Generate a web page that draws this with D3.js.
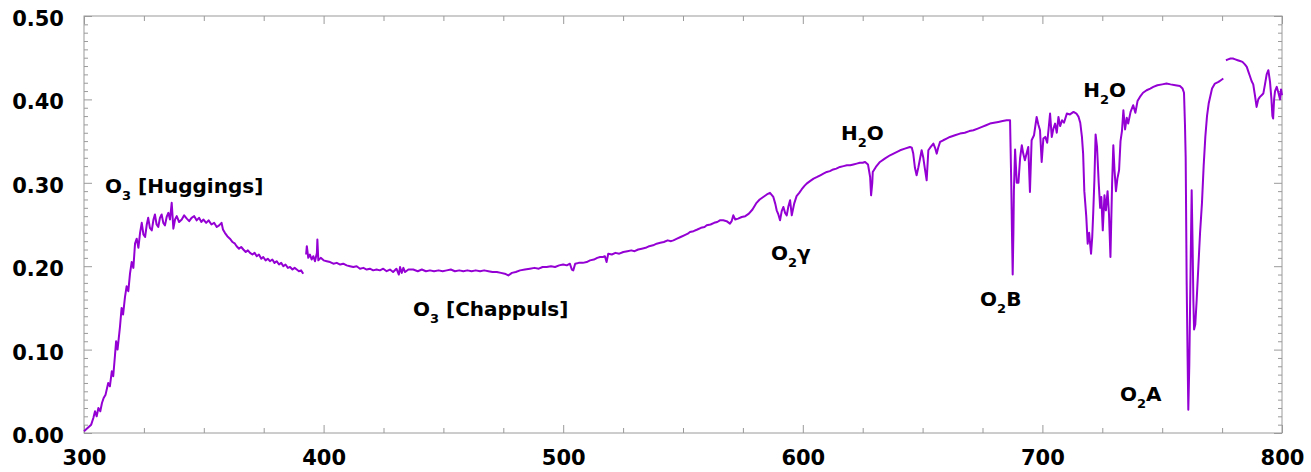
<!DOCTYPE html>
<html>
<head>
<meta charset="utf-8">
<script src="https://cdn.jsdelivr.net/npm/d3@7"></script>
<style>
  body { margin: 0; background: #fff; }
  svg { display: block; }
  text { font-family: "DejaVu Sans", sans-serif; font-weight: bold; fill: #000; }
</style>
</head>
<body>
<svg id="chart" width="1311" height="472"></svg>
<script>
// Measured spectrum, [wavelength nm, value], split where the record has gaps.
const bandUV = [
  [300.0,0.002],[301.5,0.006],[303.0,0.010],[303.9,0.018],[304.6,0.026],[305.3,0.020],[306.0,0.030],[306.8,0.026],
  [307.5,0.036],[308.2,0.042],[309.0,0.046],[310.1,0.060],[310.8,0.056],[311.6,0.074],[312.2,0.068],[312.9,0.092],
  [313.4,0.110],[314.0,0.100],[315.0,0.127],[315.7,0.150],[316.3,0.142],[317.1,0.163],[317.8,0.176],[318.5,0.170],
  [319.2,0.191],[319.9,0.205],[320.6,0.198],[321.3,0.227],[322.0,0.233],[322.7,0.222],[323.4,0.240],[324.1,0.252],
  [324.8,0.238],[325.5,0.235],[326.2,0.250],[326.8,0.258],[327.5,0.246],[328.3,0.243],[329.0,0.256],[329.6,0.262],
  [330.3,0.250],[331.0,0.247],[331.7,0.258],[332.4,0.262],[333.1,0.252],[333.8,0.249],[334.5,0.259],[335.2,0.264],
  [335.9,0.256],[336.6,0.276],[337.3,0.245],[338.0,0.256],[338.7,0.260],[339.7,0.253],[340.8,0.256],[341.8,0.261],
  [342.9,0.257],[343.9,0.254],[344.9,0.258],[346.0,0.260],[347.0,0.255],[348.0,0.258],[349.0,0.253],[349.8,0.256],
  [351.0,0.252],[352.0,0.255],[353.2,0.250],[354.3,0.252],[355.4,0.247],[356.4,0.249],[357.4,0.252],[358.0,0.244],
  [358.8,0.240],[359.8,0.236],[360.9,0.233],[362.0,0.229],[363.0,0.227],[363.7,0.224],[364.7,0.221],[365.6,0.223],
  [366.5,0.220],[367.5,0.217],[368.4,0.219],[369.3,0.216],[370.3,0.214],[371.2,0.216],[372.1,0.212],[373.0,0.214],
  [374.0,0.209],[374.8,0.211],[375.8,0.207],[376.7,0.209],[377.6,0.206],[378.6,0.208],[379.5,0.204],[380.4,0.206],
  [381.4,0.202],[382.3,0.204],[383.2,0.200],[384.1,0.202],[385.1,0.198],[386.0,0.199],[387.0,0.196],[387.9,0.198],
  [388.8,0.196],[389.7,0.194],[390.6,0.195],[391.5,0.191]
];

const bandVis = [
  [392.7,0.214],[393.0,0.224],[393.6,0.210],[394.3,0.214],[395.0,0.208],[395.7,0.212],[396.4,0.206],[397.2,0.216],
  [397.4,0.232],[397.8,0.207],[398.8,0.210],[400.0,0.207],[401.3,0.206],[402.7,0.205],[404.1,0.203],[405.5,0.204],
  [406.9,0.202],[408.2,0.203],[409.6,0.201],[411.0,0.200],[412.4,0.199],[413.8,0.200],[415.2,0.197],[416.6,0.198],
  [418.0,0.196],[419.3,0.197],[420.7,0.195],[422.1,0.196],[423.5,0.195],[424.9,0.197],[426.3,0.194],[427.7,0.196],
  [429.0,0.193],[430.4,0.197],[431.4,0.190],[431.9,0.199],[432.6,0.192],[433.3,0.198],[434.0,0.193],[435.4,0.196],
  [437.4,0.196],[439.3,0.194],[441.0,0.196],[442.7,0.194],[444.4,0.195],[446.1,0.194],[448.0,0.195],[449.7,0.194],
  [451.4,0.195],[453.1,0.196],[454.8,0.194],[456.6,0.195],[458.3,0.194],[460.0,0.195],[461.8,0.194],[463.5,0.195],
  [465.3,0.194],[467.0,0.195],[468.8,0.194],[470.5,0.193],[472.3,0.193],[474.0,0.192],[475.6,0.191],[477.1,0.189],
  [478.6,0.192],[480.2,0.193],[482.0,0.195],[484.0,0.196],[486.1,0.197],[488.0,0.198],[489.8,0.197],[491.4,0.199],
  [493.1,0.199],[494.9,0.200],[496.6,0.199],[498.3,0.201],[500.0,0.202],[501.5,0.201],[502.8,0.203],[503.6,0.196],
  [504.2,0.195],[505.0,0.203],[506.5,0.204],[508.2,0.204],[509.8,0.205],[511.2,0.207],[512.8,0.208],[514.2,0.210],
  [515.4,0.211],[516.6,0.211],[517.4,0.212],[518.1,0.205],[518.8,0.215],[520.3,0.214],[521.8,0.216],[523.4,0.215],
  [525.1,0.217],[526.8,0.218],[528.4,0.219],[529.8,0.218],[531.3,0.220],[532.8,0.221],[534.4,0.222],[535.9,0.224],
  [537.5,0.225],[539.0,0.227],[540.5,0.228],[542.0,0.229],[543.6,0.231],[545.0,0.230],[546.0,0.231],[547.5,0.233],
  [549.0,0.235],[550.5,0.237],[552.0,0.239],[552.9,0.241],[554.4,0.242],[556.0,0.244],[557.5,0.246],[559.0,0.247],
  [559.9,0.249],[561.5,0.250],[563.0,0.252],[564.3,0.253],[565.4,0.255],[566.8,0.255],[568.2,0.254],[569.6,0.251],
  [570.3,0.254],[571.0,0.261],[571.8,0.256],[573.0,0.257],[574.5,0.259],[576.0,0.260],[577.5,0.263],[579.0,0.268],
  [580.7,0.276],[582.0,0.280],[583.5,0.283],[585.0,0.286],[586.3,0.288],[587.7,0.283],[588.5,0.275],[589.1,0.267],
  [589.8,0.262],[590.5,0.255],[591.2,0.266],[591.9,0.271],[592.6,0.264],[593.3,0.261],[594.0,0.272],[594.7,0.279],
  [595.4,0.261],[596.4,0.275],[597.4,0.284],[598.5,0.288],[599.5,0.292],[600.6,0.296],[601.6,0.299],[603.0,0.302],
  [604.5,0.305],[606.0,0.307],[607.3,0.309],[608.6,0.311],[610.0,0.313],[611.3,0.314],[612.7,0.316],[614.0,0.317],
  [615.5,0.319],[617.0,0.320],[618.4,0.321],[619.8,0.321],[621.1,0.322],[622.5,0.323],[623.8,0.324],[625.0,0.324],
  [626.0,0.325],[627.2,0.322],[628.1,0.307],[628.5,0.285],[629.0,0.300],[629.2,0.313],[630.5,0.319],[632.2,0.325],
  [634.2,0.329],[636.4,0.333],[638.5,0.336],[640.6,0.339],[642.6,0.341],[644.7,0.343],[645.5,0.342],[646.1,0.335],
  [646.8,0.318],[647.5,0.309],[648.2,0.318],[649.0,0.330],[649.6,0.339],[650.3,0.330],[650.9,0.318],[651.7,0.303],
  [652.4,0.339],[653.4,0.343],[654.5,0.347],[655.2,0.342],[655.9,0.335],[656.5,0.342],[657.3,0.349],[658.6,0.351],
  [660.0,0.353],[661.4,0.355],[663.5,0.357],[665.6,0.359],[667.6,0.360],[669.5,0.362],[671.2,0.363],[673.0,0.365],
  [674.8,0.367],[676.5,0.369],[678.1,0.371],[679.8,0.372],[681.6,0.373],[683.4,0.374],[685.1,0.375],[686.5,0.375],
  [687.0,0.300],[687.3,0.240],[687.6,0.190],[687.9,0.240],[688.1,0.290],[688.6,0.340],[689.3,0.300],[690.0,0.300],
  [690.7,0.330],[691.4,0.345],[692.0,0.335],[692.7,0.327],[693.4,0.335],[694.1,0.343],[694.8,0.289],[695.5,0.351],
  [696.5,0.357],[697.6,0.379],[698.3,0.370],[699.0,0.363],[699.7,0.325],[700.4,0.353],[701.2,0.355],[702.0,0.348],
  [702.6,0.365],[703.2,0.383],[703.9,0.355],[704.6,0.365],[705.3,0.371],[706.0,0.360],[706.7,0.379],[707.4,0.368],
  [708.2,0.375],[709.0,0.372],[710.2,0.383],[711.5,0.382],[713.0,0.385],[714.2,0.383],[715.1,0.379],[715.8,0.372],
  [716.5,0.355],[717.0,0.335],[717.5,0.290],[717.9,0.275],[718.3,0.260],[718.9,0.227],[719.5,0.240],[720.3,0.215],
  [720.8,0.235],[721.2,0.263],[721.7,0.303],[722.2,0.358],[722.8,0.343],[723.5,0.300],[724.1,0.270],[724.6,0.283],
  [725.2,0.243],[725.9,0.285],[726.5,0.267],[727.2,0.290],[727.8,0.262],[728.4,0.211],[729.1,0.300],[729.6,0.345],
  [730.1,0.315],[730.7,0.290],[731.3,0.305],[732.0,0.315],[732.6,0.350],[733.2,0.362],[733.8,0.387],[734.5,0.364],
  [735.2,0.378],[735.8,0.371],[736.8,0.385],[737.9,0.393],[738.8,0.384],[739.7,0.398],[740.7,0.403],[742.0,0.408],
  [743.5,0.411],[745.0,0.413],[746.3,0.415],[748.0,0.417],[750.0,0.418],[751.8,0.419],[753.5,0.418],[755.5,0.417],
  [757.4,0.416],[758.5,0.413],[759.1,0.408],[759.5,0.370],[759.8,0.330],[760.2,0.183],[760.6,0.090],[760.9,0.028],
  [761.3,0.080],[761.6,0.144],[762.0,0.230],[762.3,0.291],[762.7,0.223],[763.0,0.160],[763.3,0.124],[763.8,0.130],
  [764.4,0.160],[765.1,0.200],[765.8,0.240],[766.6,0.276],[767.3,0.320],[768.0,0.355],[768.7,0.380],[769.4,0.395],
  [770.8,0.413],[772.0,0.419],[773.5,0.421],[774.5,0.423],[775.5,0.425]
];

const bandNIR = [
  [776.6,0.447],[777.5,0.448],[778.5,0.449],[779.5,0.449],[780.5,0.448],[781.5,0.447],[782.5,0.446],[783.5,0.445],
  [784.5,0.442],[785.3,0.439],[786.0,0.433],[786.6,0.428],[787.3,0.422],[788.0,0.418],[788.7,0.405],[789.4,0.391],
  [790.1,0.400],[790.8,0.403],[791.5,0.405],[792.2,0.407],[792.9,0.418],[793.6,0.430],[794.3,0.435],[795.0,0.421],
  [795.6,0.400],[796.0,0.380],[796.3,0.377],[796.7,0.400],[797.1,0.410],[797.8,0.415],[798.5,0.408],[799.2,0.400],
  [799.6,0.412],[800.0,0.405]
];

const xMajorTicks = [300, 400, 500, 600, 700, 800];
const yMajorTicks = [0.00, 0.10, 0.20, 0.30, 0.40, 0.50];

// Absorption band labels: [main text, subscript, trailing text, wavelength, value at baseline]
const bandLabels = [
  ["O", "3", " [Huggings]", 308.8, 0.288],
  ["O", "3", " [Chappuls]", 437.3, 0.140],
  ["O", "2", "\u03B3",        586.7, 0.207],
  ["H", "2", "O",             615.9, 0.351],
  ["O", "2", "B",             674.0, 0.152],
  ["O", "2", "A",             732.4, 0.038],
  ["H", "2", "O",             717.0, 0.403]
];

const svg = d3.select("#chart");
const plotLeft = 84, plotRight = 1282, plotTop = 16, plotBottom = 433;

const x = d3.scaleLinear().domain([300, 800]).range([plotLeft, plotRight]);
const y = d3.scaleLinear().domain([0, 0.5]).range([plotBottom, plotTop]);

const axisColor = "#9a9a9a";
const fmt = d3.format(".2f");

// Minor ticks (no labels)
const xMinor = d3.range(300, 801, 25).filter(v => v % 100 !== 0);
const yMinor = d3.range(0, 51, 1).map(v => v / 100).filter(v => Math.round(v * 100) % 10 !== 0);

function styleAxis(g) {
  g.select(".domain").remove();
  g.selectAll(".tick line").attr("stroke", axisColor).attr("stroke-width", 1);
}
function styleLabels(g) {
  g.selectAll("text").attr("font-size", 21)
    .style("font-family", "'DejaVu Sans', sans-serif").style("font-weight", "bold").attr("fill", "#000");
}

// Left axis
svg.append("g").attr("transform", `translate(${plotLeft},0)`)
  .call(d3.axisLeft(y).tickValues(yMajorTicks).tickSize(-8).tickPadding(20).tickFormat(fmt))
  .call(styleAxis).call(styleLabels)
  .call(g => g.selectAll("text").attr("dy", "0.45em"));
svg.append("g").attr("transform", `translate(${plotLeft},0)`)
  .call(d3.axisLeft(y).tickValues(yMinor).tickSize(-4).tickFormat(""))
  .call(styleAxis);

// Right axis
svg.append("g").attr("transform", `translate(${plotRight},0)`)
  .call(d3.axisRight(y).tickValues(yMajorTicks).tickSize(-8).tickFormat(""))
  .call(styleAxis);
svg.append("g").attr("transform", `translate(${plotRight},0)`)
  .call(d3.axisRight(y).tickValues(yMinor).tickSize(-4).tickFormat(""))
  .call(styleAxis);

// Bottom axis
svg.append("g").attr("transform", `translate(0,${plotBottom})`)
  .call(d3.axisBottom(x).tickValues(xMajorTicks).tickSize(-8).tickPadding(17).tickFormat(d3.format("d")))
  .call(styleAxis).call(styleLabels);
svg.append("g").attr("transform", `translate(0,${plotBottom})`)
  .call(d3.axisBottom(x).tickValues(xMinor).tickSize(-5).tickFormat(""))
  .call(styleAxis);

// Top axis
svg.append("g").attr("transform", `translate(0,${plotTop})`)
  .call(d3.axisTop(x).tickValues(xMajorTicks).tickSize(-8).tickFormat(""))
  .call(styleAxis);
svg.append("g").attr("transform", `translate(0,${plotTop})`)
  .call(d3.axisTop(x).tickValues(xMinor).tickSize(-5).tickFormat(""))
  .call(styleAxis);

// Frame
svg.append("rect")
  .attr("x", plotLeft).attr("y", plotTop)
  .attr("width", plotRight - plotLeft).attr("height", plotBottom - plotTop)
  .attr("fill", "none").attr("stroke", axisColor).attr("stroke-width", 1);

// Spectrum
const line = d3.line().x(d => x(d[0])).y(d => y(d[1]));
svg.append("g")
  .selectAll("path")
  .data([bandUV, bandVis, bandNIR])
  .join("path")
  .attr("d", line)
  .attr("fill", "none")
  .attr("stroke", "#9400d3")
  .attr("stroke-width", 2)
  .attr("stroke-linejoin", "round");

// Band labels
const lbl = svg.append("g").selectAll("text")
  .data(bandLabels)
  .join("text")
  .attr("x", d => x(d[3]))
  .attr("y", d => y(d[4]))
  .attr("font-size", 20);
lbl.append("tspan").text(d => d[0]);
lbl.append("tspan").attr("font-size", 13).attr("dy", 7).text(d => d[1]);
lbl.append("tspan").attr("dy", -7).text(d => d[2]);
</script>
</body>
</html>
